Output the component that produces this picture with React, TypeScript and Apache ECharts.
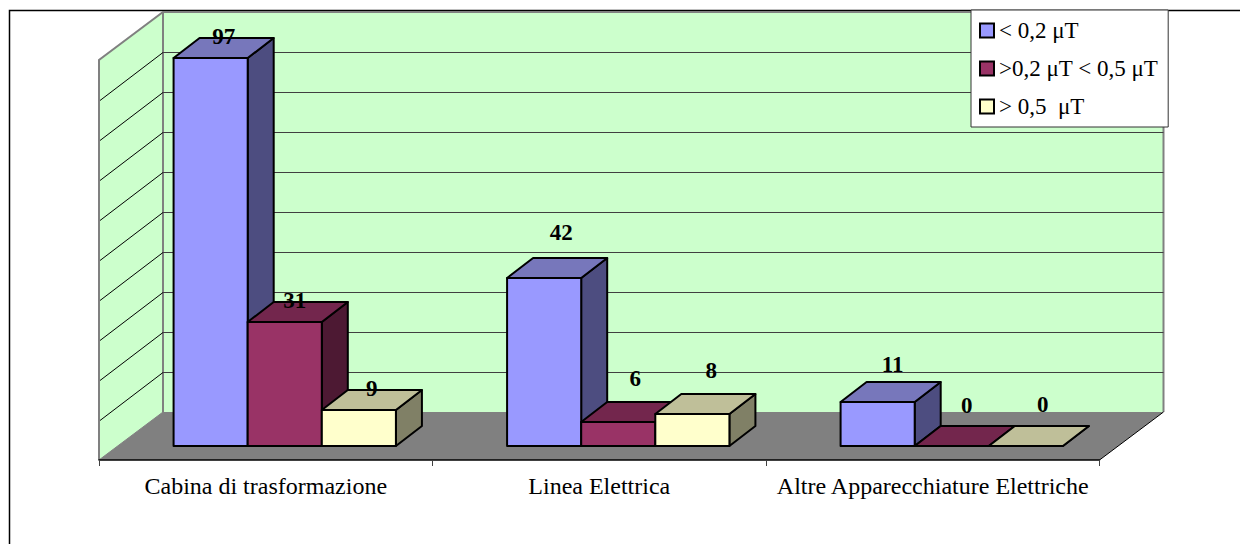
import React, { useEffect, useRef } from "react";
import * as echarts from "echarts";

const categories = ["Cabina di trasformazione", "Linea Elettrica", "Altre Apparecchiature Elettriche"];
const seriesNames = ["< 0,2 μT", ">0,2 μT < 0,5 μT", "> 0,5  μT"];
const lowValues = [97, 42, 11];
const midValues = [31, 6, 0];
const highValues = [9, 8, 0];
const valueTicks = [0, 10, 20, 30, 40, 50, 60, 70, 80, 90, 100];

const FONT = '"Liberation Serif", "Times New Roman", serif';
const faces = [
  { front: "#9999FF", top: "#7777BB", side: "#4D4D80" },
  { front: "#993366", top: "#73264D", side: "#4D1933" },
  { front: "#FFFFCC", top: "#BFBF99", side: "#808066" },
];
const WALL_DX = 64;
const WALL_DY = 48;
const BAR_DX = 26;
const BAR_DY = 20;
const BAR_SHIFT_X = 19;
const BAR_SHIFT_Y = 14;
// [dx, dy] of each value label from the front-top centre of its bar, per series then per category
const labelNudge = [
  [[13, -22], [17, -46], [15, -38]],
  [[10, -22], [17, -44], [15, -41]],
  [[13, -22], [19, -44], [17, -42]],
];

function wallItem(params: any, api: any) {
  const cs = params.coordSys;
  const x0 = cs.x, x1 = cs.x + cs.width, yT = cs.y, yB = cs.y + cs.height;
  const gray = { stroke: "#808080", lineWidth: 2, fill: "none" };
  const poly = (points: number[][], style: any) => ({ type: "polygon", shape: { points }, style });
  return {
    type: "group",
    children: [
      poly([[x0 + WALL_DX, yT - WALL_DY], [x1 + WALL_DX, yT - WALL_DY], [x1 + WALL_DX, yB - WALL_DY], [x0 + WALL_DX, yB - WALL_DY]], { fill: "#CCFFCC" }),
      poly([[x0, yT], [x0 + WALL_DX, yT - WALL_DY], [x0 + WALL_DX, yB - WALL_DY], [x0, yB]], { fill: "#CCFFCC" }),
      poly([[x0, yB], [x1, yB], [x1 + WALL_DX, yB - WALL_DY], [x0 + WALL_DX, yB - WALL_DY]], { fill: "#808080" }),
      { type: "polyline", shape: { points: [[x0, yB], [x0, yT], [x0 + WALL_DX, yT - WALL_DY], [x1 + WALL_DX, yT - WALL_DY], [x1 + WALL_DX, yB - WALL_DY]] }, style: gray },
      { type: "line", shape: { x1: x0 + WALL_DX, y1: yT - WALL_DY, x2: x0 + WALL_DX, y2: yB - WALL_DY }, style: gray },
      { type: "line", shape: { x1: x1, y1: yB, x2: x1 + WALL_DX, y2: yB - WALL_DY }, style: { stroke: "#000", lineWidth: 1 } },
      { type: "line", shape: { x1: x0, y1: yB, x2: x0 + WALL_DX, y2: yB - WALL_DY }, style: { stroke: "#808080", lineWidth: 1 } },
    ],
  };
}

function gridItem(params: any, api: any) {
  const v = api.value(0);
  if (v === 0 || v === 100) return null;
  const cs = params.coordSys;
  const y = Math.round(api.coord([0, v])[1]) + 0.5;
  const xL = cs.x;
  return {
    type: "group",
    children: [
      { type: "line", shape: { x1: xL + 1, y1: y, x2: xL + WALL_DX, y2: y - WALL_DY }, style: { stroke: "#000", lineWidth: 1 } },
      { type: "line", shape: { x1: xL + WALL_DX, y1: y - WALL_DY, x2: cs.x + cs.width + WALL_DX, y2: y - WALL_DY }, style: { stroke: "#404040", lineWidth: 1 } },
    ],
  };
}

function barRenderer(s: number) {
  return (_params: any, api: any) => {
    const i = api.value(0);
    const v = api.value(1);
    const band = api.size([1, 0])[0];
    const w = (band * 2) / 9;
    const c = api.coord([i, 0]);
    const xl = c[0] - 1.5 * w + s * w + BAR_SHIFT_X;
    const xr = xl + w;
    const yb = c[1] - BAR_SHIFT_Y;
    const yt = api.coord([i, v])[1] - BAR_SHIFT_Y;
    const f = faces[s];
    const line = { stroke: "#000", lineWidth: 2, lineJoin: "round" };
    const children: any[] = [];
    children.push({ type: "polygon", shape: { points: [[xr, yb], [xr + BAR_DX, yb - BAR_DY], [xr + BAR_DX, yt - BAR_DY], [xr, yt]] }, style: { ...line, fill: f.side } });
    children.push({ type: "polygon", shape: { points: [[xl, yt], [xr, yt], [xr + BAR_DX, yt - BAR_DY], [xl + BAR_DX, yt - BAR_DY]] }, style: { ...line, fill: f.top } });
    if (v > 0) {
      children.push({ type: "polygon", shape: { points: [[xl, yb], [xr, yb], [xr, yt], [xl, yt]] }, style: { ...line, fill: f.front } });
    }
    const n = labelNudge[s][i];
    children.push({
      type: "text",
      x: (xl + xr) / 2 + n[0],
      y: yt + n[1],
      style: { text: String(v), font: `bold 23px ${FONT}`, fill: "#000", align: "center", verticalAlign: "middle" },
    });
    return { type: "group", children };
  };
}

const allValues = [lowValues, midValues, highValues];

export default function App() {
  const ref = useRef<HTMLDivElement>(null);
  useEffect(() => {
    document.body.style.margin = "0";
    const chart = echarts.init(ref.current!, undefined, { renderer: "svg" });
    chart.setOption({
      animation: false,
      tooltip: { show: false },
      grid: { left: 99, top: 60, width: 1000.5, height: 400, containLabel: false },
      xAxis: {
        type: "category",
        data: categories,
        boundaryGap: true,
        axisLine: { show: true, lineStyle: { color: "#000", width: 1.5 } },
        axisTick: { show: true, length: 6, alignWithLabel: false, lineStyle: { color: "#404040", width: 1 } },
        axisLabel: { color: "#000", fontFamily: FONT, fontSize: 24, margin: 14, interval: 0 },
        z: 5,
      },
      yAxis: { type: "value", min: 0, max: 100, interval: 10, show: false, splitLine: { show: false } },
      legend: {
        left: 971,
        top: 10,
        orient: "vertical",
        align: "left",
        padding: [9, 10, 9, 8],
        itemGap: 15,
        itemWidth: 14,
        itemHeight: 14,
        icon: "rect",
        selectedMode: false,
        backgroundColor: "#fff",
        borderColor: "#333",
        borderWidth: 1,
        z: 20,
        data: seriesNames,
        itemStyle: { borderColor: "#000", borderWidth: 2 },
        textStyle: { color: "#000", fontFamily: FONT, fontSize: 23, lineHeight: 18, height: 18 },
      },
      graphic: [
        { type: "polyline", silent: true, shape: { points: [[9.5, 544], [9.5, 10.5], [1240, 10.5]] }, style: { stroke: "#000", lineWidth: 1.5, fill: "none" }, z: 0 },
      ],
      series: [
        { type: "custom", name: "walls", silent: true, z: 1, renderItem: wallItem, data: [[0]], encode: { x: 0 } },
        { type: "custom", name: "grid", silent: true, z: 2, renderItem: gridItem, data: valueTicks.map((v) => [v]), encode: { y: 0 } },
        ...seriesNames.map((name, s) => ({
          type: "custom",
          name,
          silent: true,
          z: 6 + s,
          clip: false,
          itemStyle: { color: faces[s].front },
          renderItem: barRenderer(s),
          encode: { x: 0, y: 1 },
          data: allValues[s].map((v, i) => [i, v]),
        })),
      ],
    });
    return () => chart.dispose();
  }, []);
  return <div ref={ref} style={{ position: "fixed", left: 0, top: 0, width: 1240, height: 544, background: "#fff" }} />;
}
